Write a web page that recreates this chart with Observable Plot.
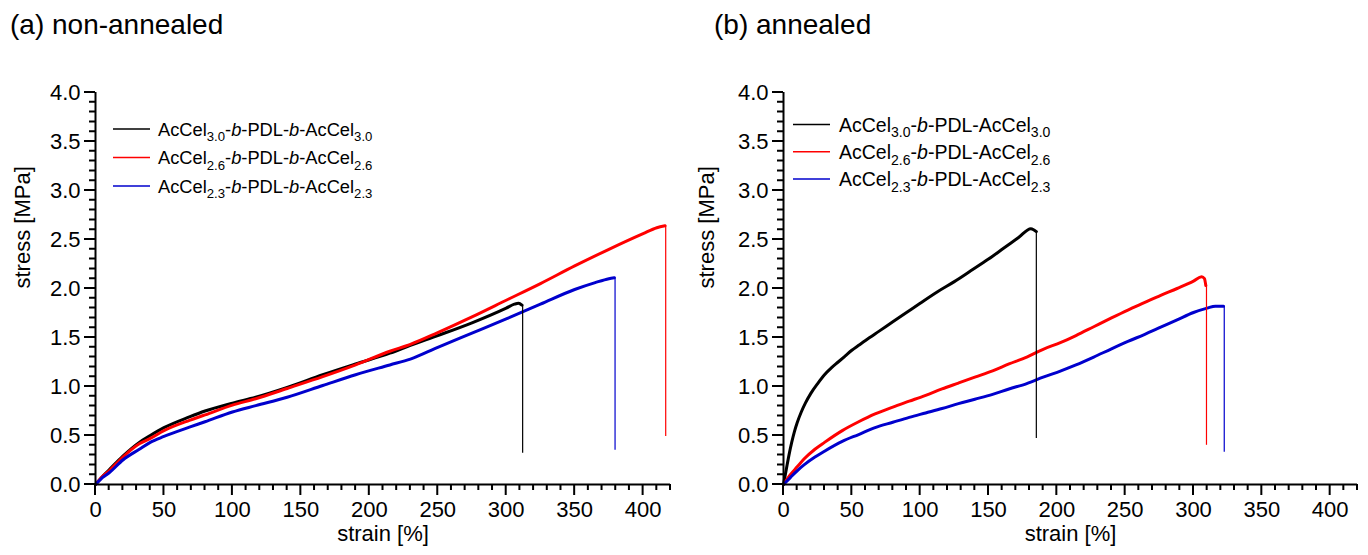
<!DOCTYPE html>
<html><head><meta charset="utf-8">
<script src="https://cdn.jsdelivr.net/npm/d3@7"></script>
<script src="https://cdn.jsdelivr.net/npm/@observablehq/plot@0.6"></script>
<style>
body{margin:0;background:#fff;font-family:"Liberation Sans",Arial,sans-serif;}
#wrap{display:flex;width:1368px;height:555px;}
.panel{width:684px;height:555px;}
.title{height:50px;font-size:28px;line-height:50px;color:#000;white-space:nowrap;}
svg{display:block;}
</style></head><body>
<div id="wrap">
  <div class="panel" id="pa"><div class="title" style="padding-left:10px">(a) non-annealed</div></div>
  <div class="panel" id="pb"><div class="title" style="padding-left:30px">(b) annealed</div></div>
</div>
<script>
// ---------- data ----------
const seriesKeys = ["3.0", "2.6", "2.3"];
const seriesColors = ["#000000", "#ff0000", "#0000cd"];

// (a) non-annealed
const aStrain30 = [0,5,10,20,32,40,50,68.6,80,100,117,140,166,190,215,230,250,275,300,306,309,311.5];
const aStress30 = [0,0.08,0.15,0.29,0.43,0.50,0.58,0.69,0.75,0.83,0.89,0.99,1.12,1.23,1.34,1.42,1.52,1.65,1.80,1.84,1.85,1.83];
const aStrain26 = [0,5,10,20,32,40,50,68.6,80,100,117,140,166,190,215,230,250,275,300,325,350,375,400,410,416];
const aStress26 = [0,0.08,0.14,0.28,0.415,0.47,0.55,0.655,0.71,0.81,0.875,0.98,1.10,1.22,1.36,1.43,1.55,1.71,1.88,2.05,2.23,2.40,2.56,2.62,2.64];
const aStrain23 = [0,5,10,20,32,40,50,68.6,80,100,117,140,166,190,215,230,250,275,300,325,350,365,375,379];
const aStress23 = [0,0.07,0.12,0.25,0.36,0.43,0.49,0.585,0.64,0.74,0.805,0.89,1.01,1.12,1.22,1.28,1.40,1.545,1.69,1.84,1.99,2.06,2.10,2.11];
const aBreakStrain = [312, 416.5, 379.5];
const aBreakTop = [1.83, 2.64, 2.11];
const aBreakBottom = [0.32, 0.49, 0.35];

// (b) annealed
const bStrain30 = [0,2,4,6,8,10,13,16,20,25,30,35,40,45,50,55,60,70,80,90,100,113,125,137,150,161,172,181,183,185];
const bStress30 = [0,0.15,0.30,0.43,0.54,0.63,0.74,0.83,0.93,1.03,1.12,1.19,1.25,1.31,1.37,1.42,1.47,1.565,1.66,1.755,1.85,1.97,2.07,2.18,2.30,2.41,2.52,2.61,2.60,2.58];
const bStrain26 = [0,5,10,15,23,30,43,55,67,80,92,104,116,128,140,153,165,178,190,203,214,227,240,252,264,276,288,300,306,308,309];
const bStress26 = [0,0.10,0.18,0.26,0.36,0.43,0.55,0.64,0.72,0.79,0.85,0.91,0.975,1.035,1.095,1.16,1.23,1.30,1.38,1.45,1.52,1.61,1.70,1.78,1.855,1.93,2.0,2.075,2.12,2.10,2.03];
const bStrain23 = [0,5,10,15,23,30,43,55,67,80,92,104,116,128,140,153,165,178,190,203,214,227,240,252,264,276,288,300,310,316,322];
const bStress23 = [0,0.07,0.14,0.20,0.28,0.34,0.44,0.51,0.58,0.635,0.685,0.73,0.775,0.825,0.87,0.92,0.975,1.03,1.095,1.16,1.22,1.30,1.385,1.46,1.53,1.605,1.68,1.755,1.80,1.82,1.82];
const bBreakStrain = [185, 309.5, 322.5];
const bBreakTop = [2.58, 2.03, 1.82];
const bBreakBottom = [0.47, 0.40, 0.33];

// axes
const xMajorTicks = [0,50,100,150,200,250,300,350,400];
const yMajorTicks = [0,0.5,1.0,1.5,2.0,2.5,3.0,3.5,4.0];
const xMinorTicks = d3.range(0, 421, 10);
const yMinorTicks = d3.range(0, 41, 1).map(v => v / 10);
const xTitle = "strain [%]";
const yTitle = "stress [MPa]";

// ---------- build ----------
function rowsFor(strains, stresses) {
  const rows = [];
  strains.forEach((s, i) => {
    s.forEach((x, j) => rows.push({series: seriesKeys[i], color: seriesColors[i], strain: x, stress: stresses[i][j]}));
  });
  return rows;
}
function breaksFor(bs, bt, bb) {
  return bs.map((x, i) => ({series: seriesKeys[i], color: seriesColors[i], strain: x, top: bt[i], bottom: bb[i]}));
}

// custom mark: outward ticks, positioned through the plot's scales
function tickMark(index, scales) {
  const sx = scales.x, sy = scales.y;
  const x0 = sx(0), y0 = sy(0);
  let d = "";
  const seg = (a, b, c, e) => { d += `M${a},${b}L${c},${e}`; };
  xMinorTicks.forEach(v => seg(sx(v), y0, sx(v), y0 + 6));
  xMajorTicks.forEach(v => seg(sx(v), y0, sx(v), y0 + 11));
  yMinorTicks.forEach(v => seg(x0 - 6, sy(v), x0, sy(v)));
  yMajorTicks.forEach(v => seg(x0 - 11, sy(v), x0, sy(v)));
  const p = document.createElementNS("http://www.w3.org/2000/svg", "path");
  p.setAttribute("d", d);
  p.setAttribute("fill", "none");
  p.setAttribute("stroke", "#000000");
  p.setAttribute("stroke-width", "2");
  return p;
}

function makePanel(rows, breaks, ml, mr) {
  const fs = 22, W = 684, H = 505, mt = 42, mb = 71;
  return Plot.plot({
    width: W, height: H,
    marginLeft: ml, marginRight: mr, marginTop: mt, marginBottom: mb,
    x: {domain: [0, 420], label: null},
    y: {domain: [0, 4], label: null},
    color: {type: "identity"},
    axis: null,
    style: {fontFamily: "'Liberation Sans', Arial, sans-serif", fontSize: fs + "px"},
    marks: [
      // data
      Plot.line(rows, {x: "strain", y: "stress", z: "series", stroke: "color", strokeWidth: 3, strokeLinejoin: "round", curve: "monotone-x"}),
      Plot.ruleX(breaks, {x: "strain", y1: "top", y2: "bottom", stroke: "color", strokeWidth: 1.2}),
      // axis lines
      Plot.ruleY([0], {stroke: "#000", strokeWidth: 2}),
      Plot.ruleX([0], {stroke: "#000", strokeWidth: 2}),
      // outward tick marks
      tickMark,
      // tick labels
      Plot.text(xMajorTicks, {x: d => d, text: d => String(d), frameAnchor: "bottom", lineAnchor: "top", dy: 17, fontSize: fs}),
      Plot.text(yMajorTicks, {y: d => d, text: d => d3.format(".1f")(d), frameAnchor: "left", textAnchor: "end", dx: -15, fontSize: fs}),
      // axis titles
      Plot.text([yTitle], {text: d => d, frameAnchor: "left", dx: 22 - ml, rotate: -90, fontSize: fs}),
      Plot.text([xTitle], {text: d => d, frameAnchor: "bottom", dy: 56, fontSize: fs})
    ]
  });
}

function addLegend(svgNode, x0, x1, tx, ys, fs, doubleB) {
  const svg = d3.select(svgNode);
  const g = svg.append("g").attr("font-family", "'Liberation Sans', Arial, sans-serif")
    .attr("font-size", fs).attr("text-anchor", "start");
  seriesKeys.forEach((k, i) => {
    const y = ys[i];
    g.append("line").attr("x1", x0).attr("x2", x1).attr("y1", y).attr("y2", y)
      .attr("stroke", seriesColors[i]).attr("stroke-width", 1.5);
    const t = g.append("text").attr("x", tx).attr("y", y + fs * 0.36).attr("fill", "#000").attr("text-anchor", "start");
    const sub = fs * 0.72, sh = fs * 0.3;
    t.append("tspan").text("AcCel");
    t.append("tspan").attr("dy", sh).attr("font-size", sub).text(k);
    t.append("tspan").attr("dy", -sh).text("-");
    t.append("tspan").attr("font-style", "italic").text("b");
    t.append("tspan").text(doubleB ? "-PDL-" : "-PDL-AcCel");
    if (doubleB) {
      t.append("tspan").attr("font-style", "italic").text("b");
      t.append("tspan").text("-AcCel");
    }
    t.append("tspan").attr("dy", sh).attr("font-size", sub).text(k);
  });
}

const rowsA = rowsFor([aStrain30, aStrain26, aStrain23], [aStress30, aStress26, aStress23]);
const rowsB = rowsFor([bStrain30, bStrain26, bStrain23], [bStress30, bStress26, bStress23]);
const brA = breaksFor(aBreakStrain, aBreakTop, aBreakBottom);
const brB = breaksFor(bBreakStrain, bBreakTop, bBreakBottom);

const plotA = makePanel(rowsA, brA, 95, 14);
const plotB = makePanel(rowsB, brB, 99, 11);
addLegend(plotA, 113, 150, 158, [79, 107.5, 136], 18.3, true);
addLegend(plotB, 109, 146, 155, [74.5, 101.7, 129], 19.5, false);
document.getElementById("pa").appendChild(plotA);
document.getElementById("pb").appendChild(plotB);
</script>
</body></html>
